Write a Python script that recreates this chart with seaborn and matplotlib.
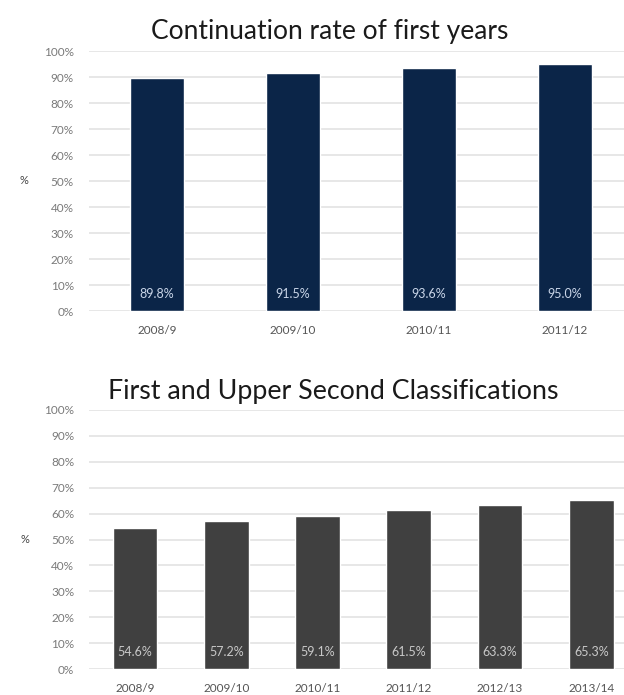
import matplotlib
matplotlib.use("Agg")
import matplotlib.pyplot as plt
import seaborn as sns
import pandas as pd

years_cont = ["2008/9", "2009/10", "2010/11", "2011/12"]
cont_rate = [89.8, 91.5, 93.6, 95.0]

years_class = ["2008/9", "2009/10", "2010/11", "2011/12", "2012/13", "2013/14"]
class_rate = [54.6, 57.2, 59.1, 61.5, 63.3, 65.3]

yticks = [0, 10, 20, 30, 40, 50, 60, 70, 80, 90, 100]
ytick_labels = [f"{t}%" for t in yticks]

sns.set_theme(style="white")
plt.rcParams['font.family'] = ['Lato', 'DejaVu Sans']

fig = plt.figure(figsize=(6.24, 6.95), dpi=100)

def draw(ax, cats, vals, color, label_color, width, title, title_y, title_x, tickpad, tsize):
    df = pd.DataFrame({"cat": cats, "val": vals})
    sns.barplot(data=df, x="cat", y="val", color=color, width=width,
                saturation=1, ax=ax, zorder=3)
    ax.set_ylim(0, 100)
    ax.set_xlim(-0.5, len(cats) - 0.5)
    ax.set_yticks(yticks)
    ax.set_yticklabels(ytick_labels, color="#7a7a7a", fontsize=8.5)
    ax.tick_params(axis="y", length=0, pad=11)
    ax.tick_params(axis="x", length=0, pad=tickpad, labelsize=8.5, labelcolor="#555555")
    ax.grid(axis="y", color="#e3e3e3", linewidth=1.2, zorder=0)
    for s in ax.spines.values():
        s.set_visible(False)
    ax.set_xlabel("")
    ax.set_ylabel("%", rotation=0, fontsize=8, color="#444444", labelpad=14, va="center")
    for i, v in enumerate(vals):
        ax.text(i, 6.5, f"{v:.1f}%", ha="center", va="center", fontsize=9,
                color=label_color, zorder=4)
    fig.text(title_x, title_y, title, ha="center", va="center", fontsize=tsize, color="#1a1a1a")

ax1 = fig.add_axes([89 / 624, 1 - 311 / 695, 544 / 624, 260 / 695])
draw(ax1, years_cont, cont_rate, "#0b2548", "#c9d5e8", 0.39,
     "Continuation rate of first years", 1 - 31 / 695, 330 / 624, 10, 19)

ax2 = fig.add_axes([89.4 / 624, 1 - 669 / 695, 547.6 / 624, 259 / 695])
draw(ax2, years_class, class_rate, "#404040", "#c8c8c8", 0.49,
     "First and Upper Second Classifications", 1 - 392 / 695, 333 / 624, 10, 19.3)

fig.savefig("out.png", dpi=100)
